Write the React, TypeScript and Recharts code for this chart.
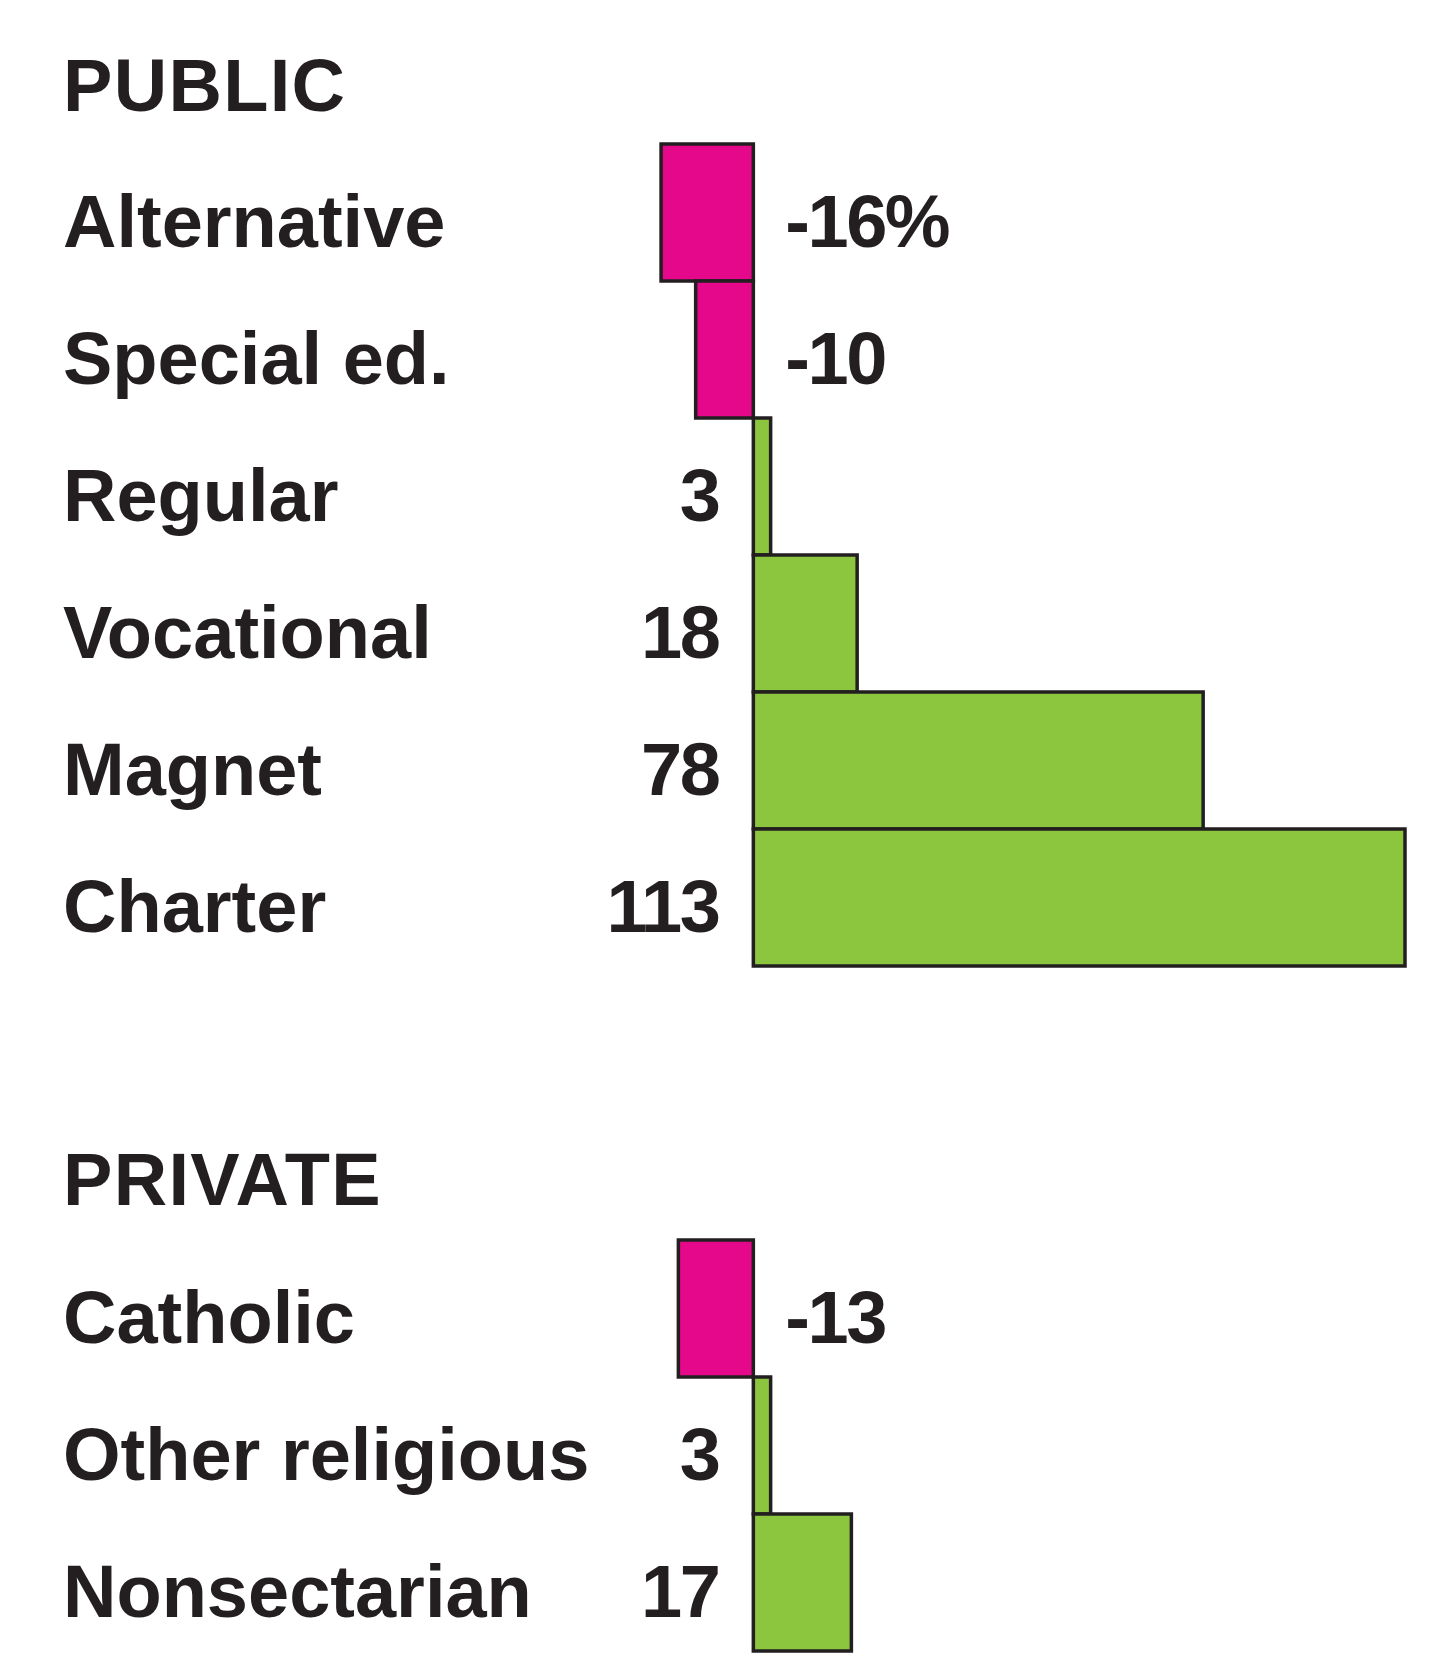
import React from 'react';
import { BarChart, Bar, XAxis, YAxis, Cell, LabelList } from 'recharts';

const publicTypes = ['Alternative', 'Special ed.', 'Regular', 'Vocational', 'Magnet', 'Charter'];
const publicChange = [-16, -10, 3, 18, 78, 113];

const privateTypes = ['Catholic', 'Other religious', 'Nonsectarian'];
const privateChange = [-13, 3, 17];

const GREEN = '#8CC63F';
const PINK = '#E6088A';
const INK = '#231F20';
const FONT = '"Liberation Sans", Arial, sans-serif';
const DOMAIN: [number, number] = [-20, 113];

const publicData = publicTypes.map((name, i) => ({ name, value: publicChange[i] }));
const privateData = privateTypes.map((name, i) => ({ name, value: privateChange[i] }));

const CategoryTick = (props: any) => {
  const { y, payload } = props;
  return (
    <text x={63} y={y + 34} fill={INK} fontFamily={FONT} fontWeight={700} fontSize={74} letterSpacing={0} textAnchor="start">
      {payload.value}
    </text>
  );
};

const makeValueLabel = (withPercent: boolean) => (props: any) => {
  const { x, y, width, height, value, index } = props;
  const left = Math.min(x, x + width);
  const right = Math.max(x, x + width);
  const neg = value < 0;
  const text = withPercent && index === 0 ? `${value}%` : `${value}`;
  return (
    <text
      x={neg ? right + 32 : left - 35}
      y={y + height / 2 + 34}
      fill={INK}
      fontFamily={FONT}
      fontWeight={700}
      fontSize={74}
      letterSpacing={-2.5}
      textAnchor={neg ? 'start' : 'end'}
    >
      {text}
    </text>
  );
};

const Section = ({ data, height, top, withPercent }: any) => (
  <BarChart
    width={1453}
    height={height}
    data={data}
    layout="vertical"
    barCategoryGap={0}
    margin={{ top, right: 48, bottom: 9, left: 0 }}
  >
    <XAxis type="number" domain={DOMAIN} hide />
    <YAxis type="category" dataKey="name" width={638} axisLine={false} tickLine={false} tick={<CategoryTick />} interval={0} />
    <Bar dataKey="value" stroke={INK} strokeWidth={3.5} isAnimationActive={false}>
      {data.map((d: any, i: number) => (
        <Cell key={`c-${i}`} fill={d.value < 0 ? PINK : GREEN} />
      ))}
      <LabelList dataKey="value" content={makeValueLabel(withPercent)} />
    </Bar>
  </BarChart>
);

const Title = ({ text, baseline }: { text: string; baseline: number }) => (
  <svg width={600} height={120} style={{ position: 'absolute', left: 0, top: baseline - 100 }}>
    <text x={63} y={100} fill={INK} fontFamily={FONT} fontWeight={700} fontSize={74} letterSpacing={1.3}>
      {text}
    </text>
  </svg>
);

export default function App() {
  return (
    <div style={{ position: 'absolute', left: 0, top: 0, width: 1453, height: 1661, background: '#fff' }}>
      <Title text="PUBLIC" baseline={111} />
      <div style={{ position: 'absolute', left: 0, top: 0 }}>
        <Section data={publicData} height={144 + 822 + 9} top={144} withPercent />
      </div>
      <Title text="PRIVATE" baseline={1205} />
      <div style={{ position: 'absolute', left: 0, top: 1100 }}>
        <Section data={privateData} height={140 + 411 + 9} top={140} withPercent={false} />
      </div>
    </div>
  );
}
